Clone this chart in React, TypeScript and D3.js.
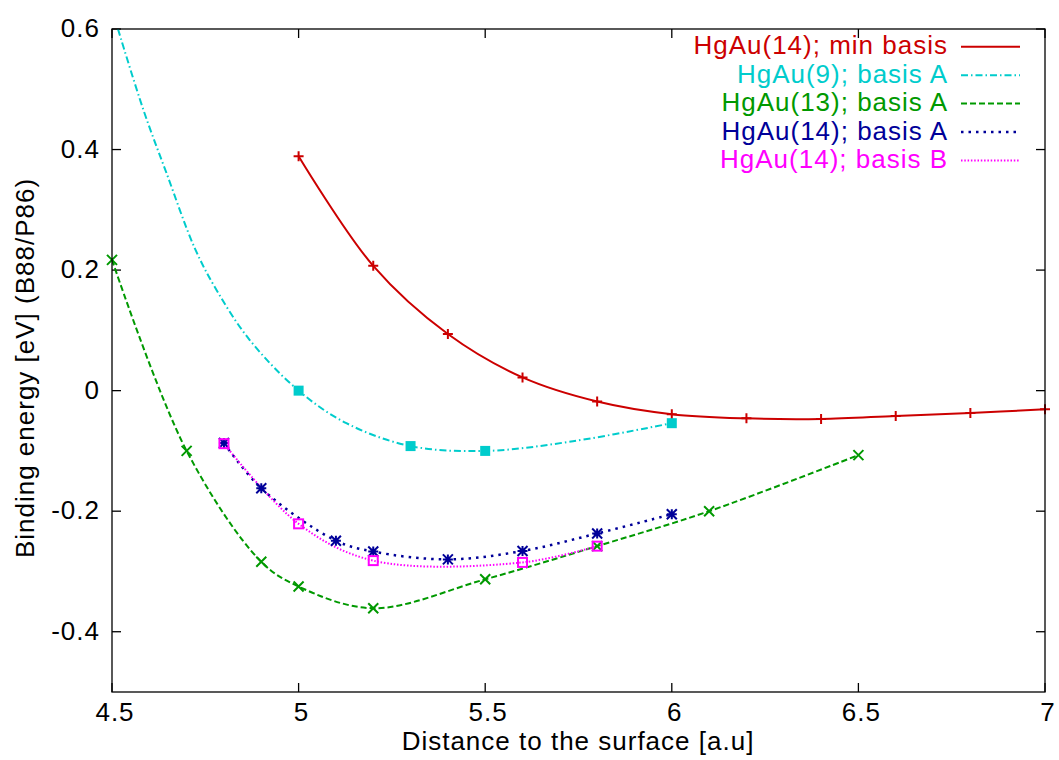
import React from "react";
import * as d3 from "d3";

// ---------- data ----------
const redX = [5.0, 5.2, 5.4, 5.6, 5.8, 6.0, 6.2, 6.4, 6.6, 6.8, 7.0];
const redY = [0.389, 0.207, 0.094, 0.022, -0.018, -0.039, -0.046, -0.047, -0.042, -0.037, -0.031];

const cyanX = [5.0, 5.3, 5.5, 6.0];
const cyanY = [0.0, -0.092, -0.1, -0.054];
const cyanCurveX = [4.516, 4.584, 4.646, 4.722, 4.78, 4.869, 5.0, 5.128, 5.3, 5.5, 5.735, 6.0];
const cyanCurveY = [0.6, 0.466, 0.361, 0.236, 0.167, 0.084, 0.0, -0.054, -0.092, -0.1, -0.084, -0.054];

const greenX = [4.5, 4.7, 4.9, 5.0, 5.2, 5.5, 5.8, 6.1, 6.5];
const greenY = [0.217, -0.1, -0.284, -0.325, -0.361, -0.313, -0.258, -0.2, -0.107];

const blueX = [4.8, 4.9, 5.1, 5.2, 5.4, 5.6, 5.8, 6.0];
const blueY = [-0.087, -0.162, -0.249, -0.267, -0.28, -0.266, -0.237, -0.205];

const magentaX = [4.8, 5.0, 5.2, 5.6, 5.8];
const magentaY = [-0.088, -0.221, -0.282, -0.285, -0.258];

const xTicks = [4.5, 5, 5.5, 6, 6.5, 7];
const yTicks = [0.6, 0.4, 0.2, 0, -0.2, -0.4];

const legendLabels = [
  "HgAu(14); min basis",
  "HgAu(9); basis A",
  "HgAu(13); basis A",
  "HgAu(14); basis A",
  "HgAu(14); basis B",
];

const xLabel = "Distance to the surface [a.u]";
const yLabel = "Binding energy [eV] (B88/P86)";

// ---------- styles ----------
const W = 1059;
const H = 760;
const M = { left: 112, right: 1045, top: 29, bottom: 692 };
const FONT = "'Liberation Sans', Arial, Helvetica, sans-serif";
const FS = 26;
const LS = 1;

const RED = "#cc0000";
const CYAN = "#00cccc";
const GREEN = "#009900";
const BLUE = "#000099";
const MAGENTA = "#ff00ff";

const zip = (xs: number[], ys: number[]) => xs.map((x, i) => [x, ys[i]] as [number, number]);

export default function App() {
  const x = d3.scaleLinear().domain([4.5, 7]).range([M.left, M.right]);
  const y = d3.scaleLinear().domain([-0.5, 0.6]).range([M.bottom, M.top]);

  const line = d3
    .line<[number, number]>()
    .x((d) => x(d[0]))
    .y((d) => y(d[1]))
    .curve(d3.curveCatmullRom.alpha(0.5));

  const series = [
    { pts: zip(redX, redY), curve: zip(redX, redY), color: RED, dash: "none", width: 2, marker: "plus" },
    { pts: zip(cyanX, cyanY), curve: zip(cyanCurveX, cyanCurveY), color: CYAN, dash: "7,3,1.5,3", width: 2, marker: "fsquare" },
    { pts: zip(greenX, greenY), curve: zip(greenX, greenY), color: GREEN, dash: "6,3", width: 2, marker: "cross" },
    { pts: zip(blueX, blueY), curve: zip(blueX, blueY), color: BLUE, dash: "2.5,5", width: 2.5, marker: "star" },
    { pts: zip(magentaX, magentaY), curve: zip(magentaX, magentaY), color: MAGENTA, dash: "1.5,1.8", width: 2, marker: "osquare" },
  ];

  const marker = (kind: string, cx: number, cy: number, color: string, key: string) => {
    const s = 5;
    if (kind === "plus")
      return <path key={key} d={`M${cx - s},${cy}H${cx + s}M${cx},${cy - s}V${cy + s}`} stroke={color} strokeWidth={2} fill="none" />;
    if (kind === "cross")
      return (
        <path key={key} d={`M${cx - s},${cy - s}L${cx + s},${cy + s}M${cx - s},${cy + s}L${cx + s},${cy - s}`} stroke={color} strokeWidth={2} fill="none" />
      );
    if (kind === "star")
      return (
        <path
          key={key}
          d={`M${cx - s},${cy - s}L${cx + s},${cy + s}M${cx - s},${cy + s}L${cx + s},${cy - s}M${cx - s},${cy}H${cx + s}M${cx},${cy - s}V${cy + s}`}
          stroke={color}
          strokeWidth={2}
          fill="none"
        />
      );
    if (kind === "fsquare") return <rect key={key} x={cx - 5} y={cy - 5} width={10} height={10} fill={color} />;
    return <rect key={key} x={cx - 4.5} y={cy - 4.5} width={9} height={9} fill="none" stroke={color} strokeWidth={2} />;
  };

  const textStyle: React.CSSProperties = { fontFamily: FONT, fontSize: FS, letterSpacing: `${LS}px` };
  const tick = 9;

  return (
    <svg width={W} height={H} style={{ position: "absolute", left: 0, top: 0, background: "#fff" }}>
      <defs>
        <clipPath id="plotClip">
          <rect x={M.left} y={M.top} width={M.right - M.left} height={M.bottom - M.top} />
        </clipPath>
      </defs>
      <rect x={0} y={0} width={W} height={H} fill="#fff" />

      {/* ticks */}
      <g stroke="#000" strokeWidth={1.3}>
        {xTicks.map((t) => (
          <g key={`xt${t}`}>
            <line x1={x(t)} x2={x(t)} y1={M.bottom} y2={M.bottom - tick} />
            <line x1={x(t)} x2={x(t)} y1={M.top} y2={M.top + tick} />
          </g>
        ))}
        {yTicks.map((t) => (
          <g key={`yt${t}`}>
            <line x1={M.left} x2={M.left + tick} y1={y(t)} y2={y(t)} />
            <line x1={M.right} x2={M.right - tick} y1={y(t)} y2={y(t)} />
          </g>
        ))}
      </g>

      {/* tick labels */}
      <g style={textStyle} fill="#000">
        {xTicks.map((t) => (
          <text key={`xl${t}`} x={x(t) + 3} y={721} textAnchor="middle">
            {String(t)}
          </text>
        ))}
        {yTicks.map((t) => (
          <text key={`yl${t}`} x={100} y={y(t) + 8} textAnchor="end">
            {String(t)}
          </text>
        ))}
        <text x={578} y={750} textAnchor="middle">
          {xLabel}
        </text>
        <text transform={`translate(34,368) rotate(-90)`} textAnchor="middle">
          {yLabel}
        </text>
      </g>

      {/* curves */}
      <g clipPath="url(#plotClip)">
        {series.map((s, i) => (
          <path
            key={`c${i}`}
            d={line(s.curve) || ""}
            fill="none"
            stroke={s.color}
            strokeWidth={s.width}
            strokeDasharray={s.dash}
          />
        ))}
      </g>
      <g>
        {series.map((s, i) => s.pts.map((p, j) => marker(s.marker, x(p[0]), y(p[1]), s.color, `m${i}-${j}`)))}
      </g>

      {/* legend */}
      <g style={textStyle}>
        {series.map((s, i) => {
          const base = 54.3 + i * 28.4;
          return (
            <g key={`lg${i}`}>
              <text x={948} y={base} textAnchor="end" fill={s.color}>
                {legendLabels[i]}
              </text>
              <line
                x1={961}
                x2={1020}
                y1={base - 7.5}
                y2={base - 7.5}
                stroke={s.color}
                strokeWidth={s.width}
                strokeDasharray={s.dash}
              />
            </g>
          );
        })}
      </g>

      {/* border */}
      <rect
        x={M.left}
        y={M.top}
        width={M.right - M.left}
        height={M.bottom - M.top}
        fill="none"
        stroke="#000"
        strokeWidth={1.3}
      />
    </svg>
  );
}
